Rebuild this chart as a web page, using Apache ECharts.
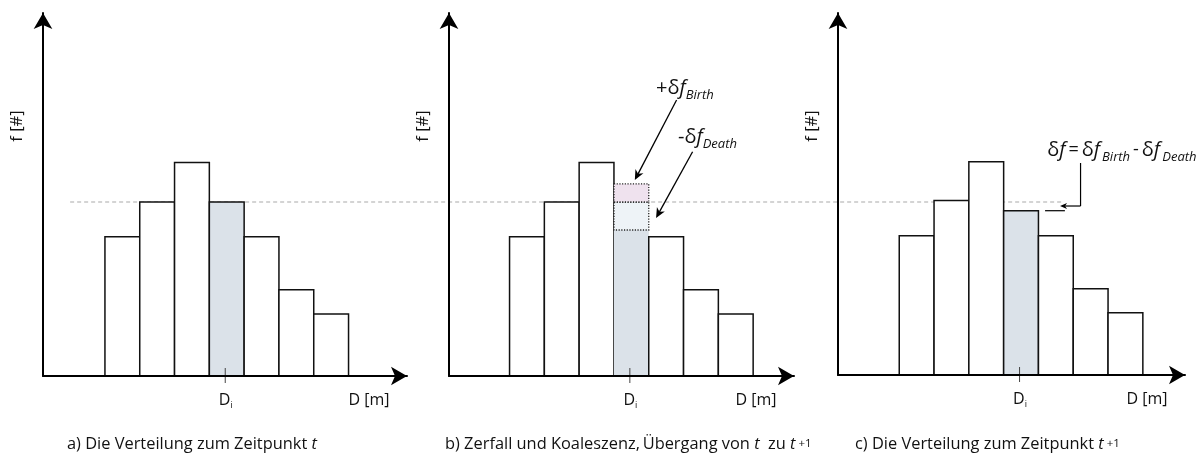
<!DOCTYPE html>
<html><head><meta charset="utf-8">
<script src="https://cdn.jsdelivr.net/npm/echarts@6/dist/echarts.min.js"></script>
<style>html,body{margin:0;padding:0;background:#fff}#c{width:1202px;height:456px}</style>
</head><body><div id="c"></div>
<script>
// ---- data ----
const bins = [1, 2, 3, 4, 5, 6, 7];                 // size classes along D
const fA = [8.0, 10.0, 12.27, 10.0, 8.0, 4.95, 3.57];  // distribution at t
const fB = [8.0, 10.0, 12.27, 10.0, 8.0, 4.95, 3.57];  // same, with birth/death at D_i
const fC = [8.0, 10.02, 12.26, 9.44, 8.0, 4.96, 3.58]; // distribution at t+1
const diBin = 4;          // class D_i
const dfBirth = 1.04;     // +delta f birth
const dfDeath = 1.61;     // -delta f death
const refLevel = 10.0;    // dashed reference level f(D_i, t)

// ---- layout ----
const FONT = "'Open Sans'";
const GREY = '#dbe2e9';
const BINW = 34.8;
const grids = [
  {left: 43, top: 13, width: 364, height: 363},
  {left: 449, top: 13, width: 345, height: 363},
  {left: 838, top: 13, width: 347, height: 362}
];
const xMins = [-0.78, -0.74, -0.76];
const yMaxs = [20.86, 20.86, 20.8];

const chart = echarts.init(document.getElementById('c'), null, {renderer: 'canvas'});

function axisLine() {
  return {show: true, onZero: false, symbol: ['none', 'arrow'], symbolSize: [14, 16],
    lineStyle: {color: '#000', width: 2}};
}

function makeRender(panel) {
  return function (params, api) {
    const i = api.value(0), v = api.value(1);
    const base = api.coord([i, 0]);
    const top = api.coord([i + 1, v]);
    const x = base[0], w = top[0] - base[0];
    const children = [];
    const isDi = i === diBin;
    if (panel === 1 && isDi) {
      const mid = api.coord([i, v - dfDeath]);
      const up = api.coord([i, v + dfBirth]);
      const vTop = api.coord([i, v]);
      children.push({type: 'rect', shape: {x: x, y: mid[1], width: w, height: base[1] - mid[1]},
        style: {fill: GREY}});
      children.push({type: 'rect', shape: {x: x, y: vTop[1], width: w, height: mid[1] - vTop[1]},
        style: {fill: '#eef3f7', stroke: '#222', lineWidth: 1.3, lineDash: [1.2, 1.5]}});
      children.push({type: 'rect', shape: {x: x, y: up[1], width: w, height: vTop[1] - up[1]},
        style: {fill: '#efe2ee', stroke: '#222', lineWidth: 1.3, lineDash: [1.2, 1.5]}});
    } else {
      children.push({type: 'rect', shape: {x: x, y: top[1], width: w, height: base[1] - top[1]},
        style: {fill: isDi ? GREY : '#fff', stroke: '#111', lineWidth: 1.5}});
    }
    if (isDi) {
      const cx = x + w / 2 - 1.5;
      children.push({type: 'line', shape: {x1: cx, y1: base[1] - 8, x2: cx, y2: base[1] + 7},
        style: {stroke: '#444', lineWidth: 1}});
    }
    return {type: 'group', children: children};
  };
}

const values = [fA, fB, fC];
const option = {
  animation: false,
  grid: grids,
  xAxis: grids.map((g, k) => ({
    type: 'value', gridIndex: k, min: xMins[k], max: xMins[k] + g.width / BINW, z: 6,
    axisLine: axisLine(), axisTick: {show: false}, axisLabel: {show: false}, splitLine: {show: false}
  })),
  yAxis: grids.map((g, k) => ({
    type: 'value', gridIndex: k, min: 0, max: yMaxs[k], z: 6,
    axisLine: axisLine(), axisTick: {show: false}, axisLabel: {show: false}, splitLine: {show: false}
  })),
  series: values.map((vals, k) => ({
    type: 'custom', xAxisIndex: k, yAxisIndex: k, z: 3, clip: false,
    data: bins.map((b, j) => [b, vals[j]]),
    renderItem: makeRender(k)
  }))
};
chart.setOption(option);

// ---- annotations ----
const px = (k, p) => chart.convertToPixel({gridIndex: k}, p);
const g = [];

function arrow(from, tip, L, W, N, lw) {
  const dx = tip[0] - from[0], dy = tip[1] - from[1];
  const len = Math.hypot(dx, dy);
  const ux = dx / len, uy = dy / len, nx = -uy, ny = ux;
  const bx = tip[0] - ux * L, by = tip[1] - uy * L;
  const notch = [tip[0] - ux * (L - N), tip[1] - uy * (L - N)];
  g.push({type: 'line', z: 8, shape: {x1: from[0], y1: from[1], x2: notch[0], y2: notch[1]},
    style: {stroke: '#000', lineWidth: lw}});
  g.push({type: 'polygon', z: 8, shape: {points: [tip, [bx + nx * W / 2, by + ny * W / 2], notch,
    [bx - nx * W / 2, by - ny * W / 2]]}, style: {fill: '#000'}});
}

// dashed reference line across all panels
{
  const p1 = px(0, [0, refLevel]);
  const p2 = px(2, [5.71, refLevel]);
  g.push({type: 'line', z: 1, shape: {x1: p1[0], y1: p1[1], x2: p2[0], y2: p1[1]},
    style: {stroke: '#aaaaaa', lineWidth: 1.2, lineDash: [4, 3]}});
}

const txt = (x, y, text, rich, opts) => ({type: 'text', z: 10, x: x, y: y,
  style: Object.assign({text: text, rich: rich || undefined, fill: '#111', font: '16px ' + FONT,
    align: 'left', verticalAlign: 'middle'}, opts || {})});

const F = (s) => s + ' ' + FONT;
const capRich = {
  n: {font: F('16.4px'), fill: '#111', lineHeight: 20},
  i: {font: F('italic 16.4px'), fill: '#111', lineHeight: 20},
  sm: {font: F('11.5px'), fill: '#111', lineHeight: 20, verticalAlign: 'middle'},
  D: {font: F('16px'), fill: '#111', lineHeight: 20},
  di: {font: F('9px'), fill: '#111', lineHeight: 15, verticalAlign: 'bottom'}
};

for (let k = 0; k < 3; k++) {
  const o = px(k, [xMins[k], 0]);
  const end = px(k, [xMins[k] + grids[k].width / BINW, 0]);
  const di = px(k, [diBin + 0.5, 0]);
  g.push(txt(end[0] - 38, o[1] + 24, 'D [m]', null, {font: F('16px'), align: 'center'}));
  const yl = txt(o[0] - 26, 126, 'f [#]', null, {font: F('16.5px'), align: 'center'});
  yl.rotation = Math.PI / 2;
  g.push(yl);
  g.push(txt(di[0] - 1, o[1] + 24, '{D|D}{di|i}', capRich, {align: 'center'}));
}

// captions
g.push(txt(67, 444, '{n|a) Die Verteilung zum Zeitpunkt }{i|t}', capRich));
g.push(txt(445, 444, '{n|b) Zerfall und Koaleszenz,\u2009Übergang von }{i|t}{n|  zu }{i|t}{sm| +1}', capRich));
g.push(txt(855, 444, '{n|c) Die Verteilung zum Zeitpunkt }{i|t}{sm| +1}', capRich));

// panel b / c annotations
const bigRich = {
  a: {font: F('20px'), fill: '#111', lineHeight: 28},
  f: {font: F('italic 20px'), fill: '#111', lineHeight: 28},
  e: {font: F('18px'), fill: '#111', lineHeight: 28},
  s: {font: F('italic 13px'), fill: '#111', lineHeight: 16, verticalAlign: 'bottom'}
};
{
  const tb = px(1, [5.21, 16.55]);
  g.push(txt(tb[0], tb[1], '{a|+δ}{f|f}{s|Birth}', bigRich));
  const td = px(1, [5.84, 13.74]);
  g.push(txt(td[0], td[1], '{a|-δ}{f|f}{s|Death}', bigRich));
  arrow(px(1, [5.80, 15.86]), px(1, [4.60, 11.26]), 10, 9, 3, 1.3);
  arrow(px(1, [6.26, 12.89]), px(1, [5.21, 9.08]), 10, 9, 3, 1.3);
}
{
  const tf = px(2, [5.25, 12.93]);
  g.push(txt(tf[0], tf[1], '{a|δ}{f|f}{e|\u2009=\u2009}{a|δ}{f|f}{s|\u2009Birth}{e|\u2009-\u2009}{a|δ}{f|f}{s|\u2009Death}', bigRich));
  const v1 = px(2, [6.21, 12.18]);
  const v2 = px(2, [6.21, 9.71]);
  g.push({type: 'line', z: 8, shape: {x1: v1[0], y1: v1[1], x2: v2[0], y2: v2[1]},
    style: {stroke: '#000', lineWidth: 1.2}});
  arrow(v2, px(2, [5.62, 9.71]), 7, 6, 2, 1.2);
  const s1 = px(2, [5.19, fC[diBin - 1]]);
  const s2 = px(2, [5.76, fC[diBin - 1]]);
  g.push({type: 'line', z: 8, shape: {x1: s1[0], y1: s1[1], x2: s2[0], y2: s2[1]},
    style: {stroke: '#000', lineWidth: 1.2}});
}

chart.setOption({graphic: {elements: g}});
</script>
</body></html>
